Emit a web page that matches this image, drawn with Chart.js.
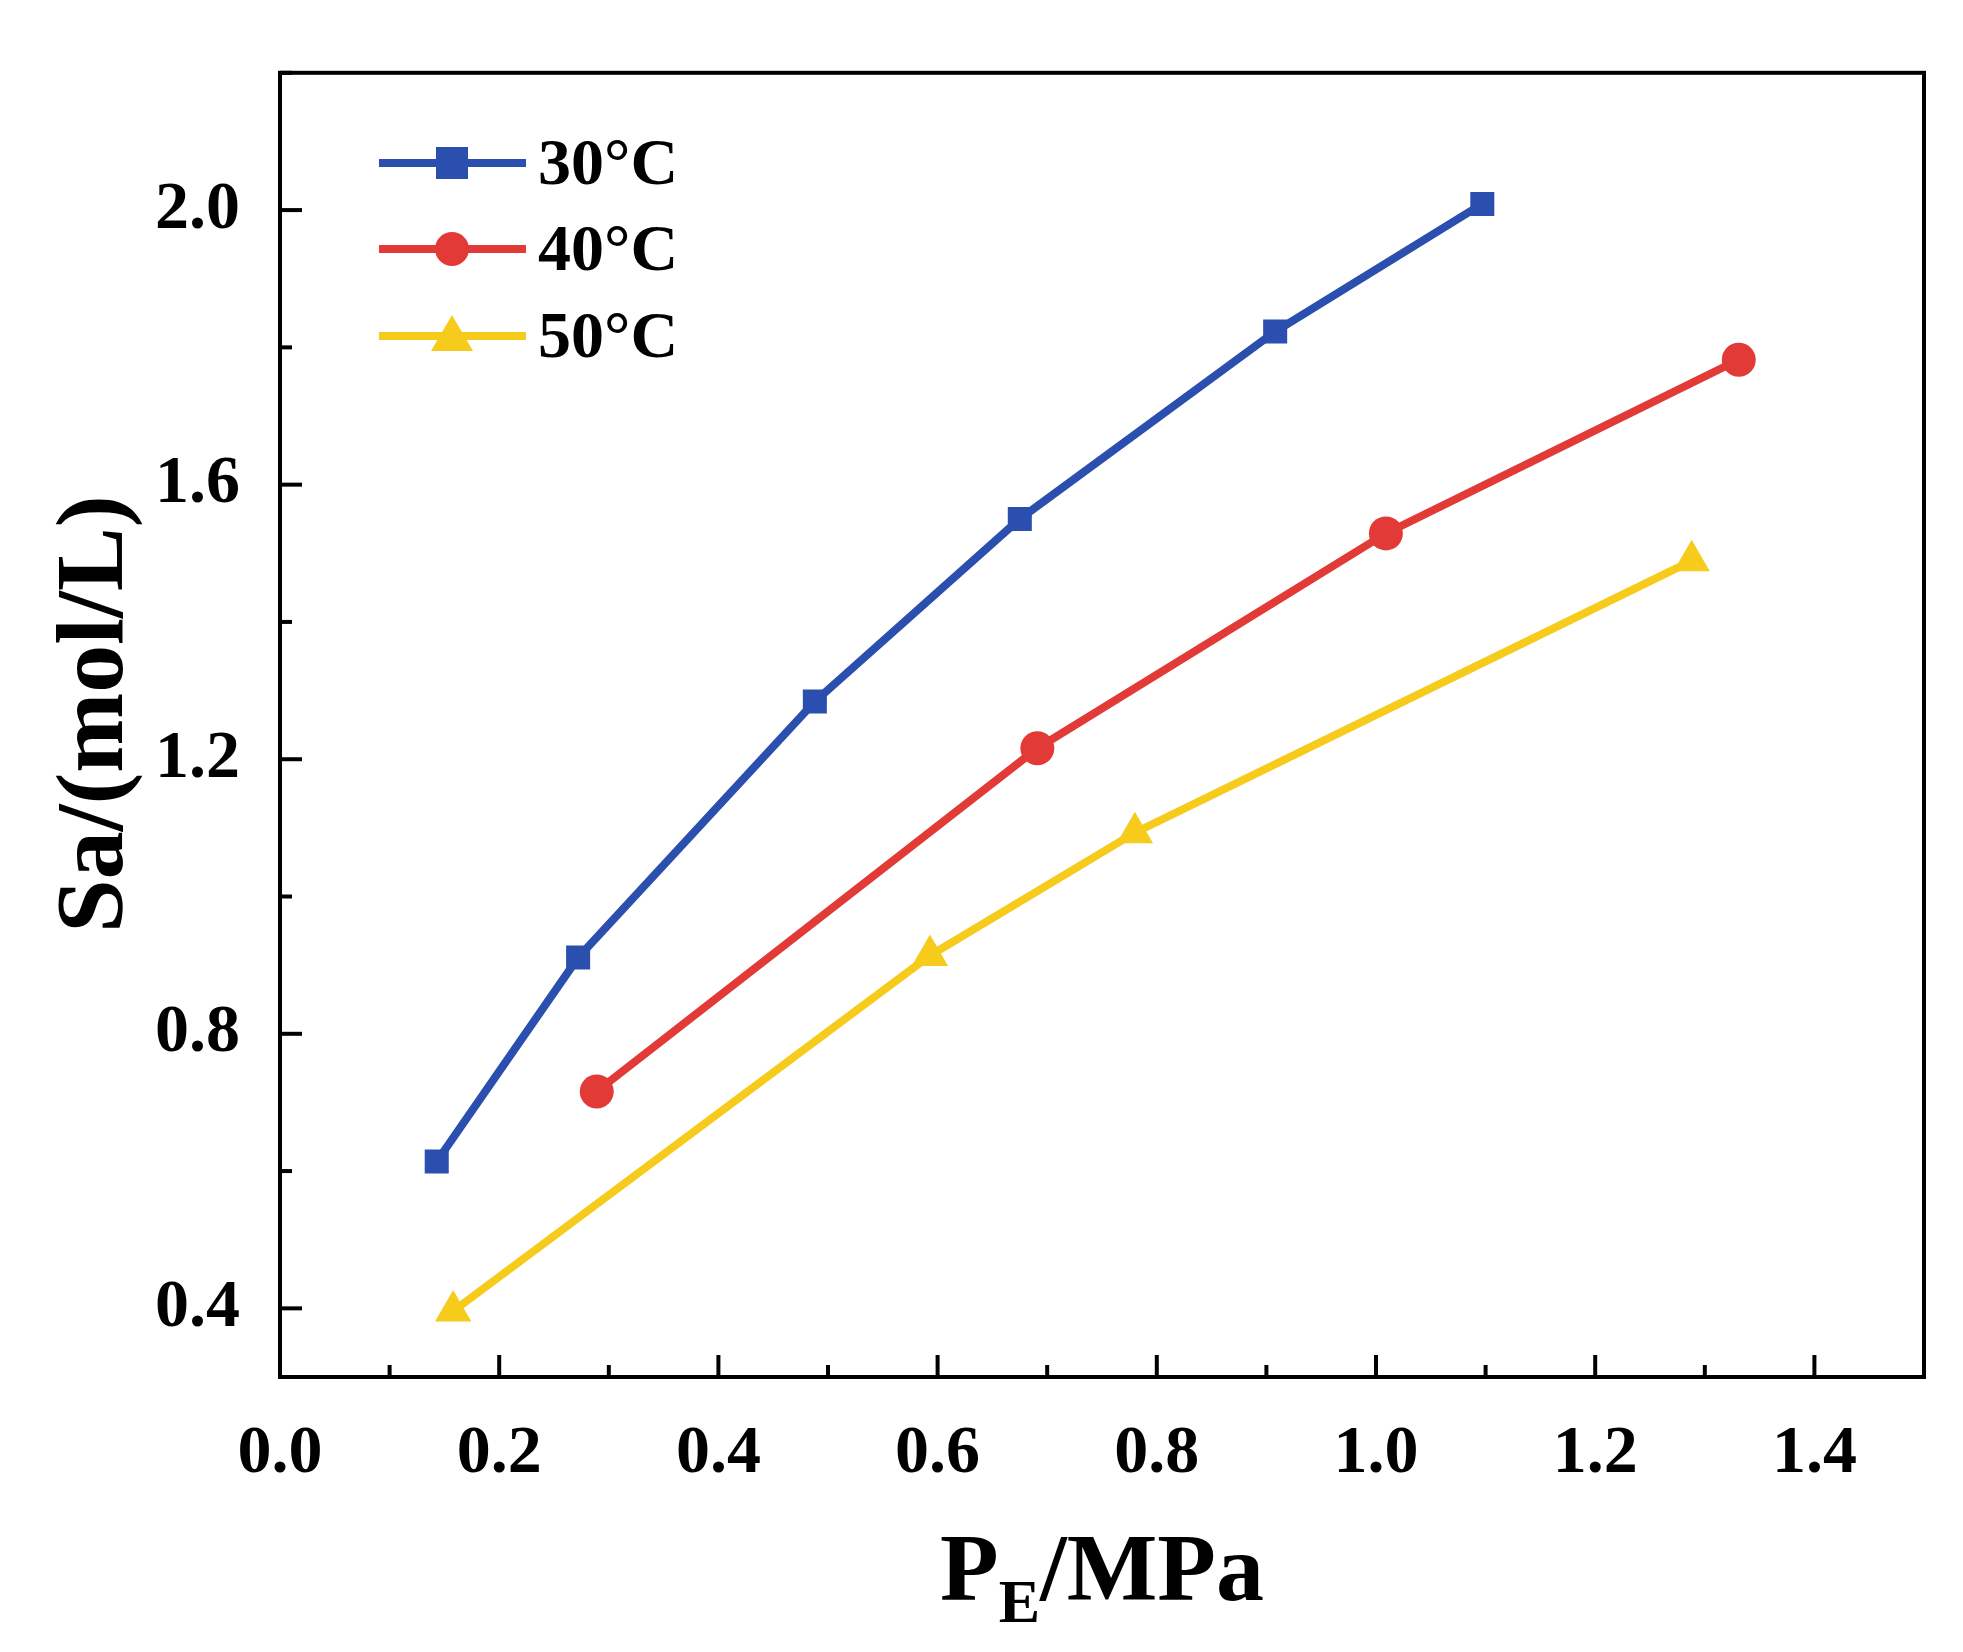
<!DOCTYPE html>
<html>
<head>
<meta charset="utf-8">
<script src="https://cdn.jsdelivr.net/npm/chart.js@4.4.0/dist/chart.umd.min.js"></script>
<style>
  html, body { margin: 0; padding: 0; background: #fff; }
  #wrap { width: 1963px; height: 1652px; }
</style>
</head>
<body>
<div id="wrap"><canvas id="c" width="1963" height="1652"></canvas></div>
<script>
// Data
const seriesLabels = ['30°C', '40°C', '50°C'];
const x30 = [0.143, 0.272, 0.488, 0.675, 0.908, 1.097];
const y30 = [0.614, 0.911, 1.284, 1.550, 1.823, 2.009];
const x40 = [0.289, 0.691, 1.009, 1.331];
const y40 = [0.716, 1.216, 1.529, 1.782];
const x50 = [0.158, 0.593, 0.780, 1.288];
const y50 = [0.396, 0.914, 1.093, 1.489];
const xTicks = [0.0, 0.2, 0.4, 0.6, 0.8, 1.0, 1.2, 1.4];
const yTicks = [0.4, 0.8, 1.2, 1.6, 2.0];

const colors = { blue: '#2b4fae', red: '#e13a37', yellow: '#f6cb1c' };
const FONT = '"Liberation Serif", "Times New Roman", serif';

function pts(xs, ys) { return xs.map((x, i) => ({ x: x, y: ys[i] })); }

function ds(label, data, color, style, r) {
    return {
        label: label, data: data, borderColor: color, backgroundColor: color,
        borderWidth: 8, pointStyle: style, pointRadius: r, pointBorderWidth: 0,
        tension: 0, fill: false, showLine: true
    };
}

// Inward ticks, frame, axis titles and legend
const decor = {
    id: 'decor',
    afterDraw(chart) {
        const ctx = chart.ctx, a = chart.chartArea;
        const xs = chart.scales.x, ys = chart.scales.y;
        ctx.save();
        ctx.strokeStyle = '#000';
        ctx.lineWidth = 4;
        ctx.strokeRect(a.left, a.top, a.right - a.left, a.bottom - a.top);
        for (let v = 0.1; v < 1.5; v += 0.1) {
            const p = xs.getPixelForValue(v);
            const major = Math.round(v * 10) % 2 === 0;
            ctx.beginPath(); ctx.moveTo(p, a.bottom); ctx.lineTo(p, a.bottom - (major ? 22 : 12)); ctx.stroke();
        }
        for (let v = 0.4; v < 2.2; v += 0.2) {
            const p = ys.getPixelForValue(v);
            const major = Math.round(v * 10) % 4 === 0;
            ctx.beginPath(); ctx.moveTo(a.left, p); ctx.lineTo(a.left + (major ? 22 : 12), p); ctx.stroke();
        }

        // x title: P_E/MPa
        ctx.fillStyle = '#000';
        ctx.textBaseline = 'alphabetic';
        ctx.font = 'bold 96px ' + FONT;
        const big = ctx.measureText('P').width;
        ctx.font = 'bold 62px ' + FONT;
        const sub = ctx.measureText('E').width;
        ctx.font = 'bold 96px ' + FONT;
        const rest = ctx.measureText('/MPa').width;
        const x0 = 1102 - (big + sub + rest) / 2;
        const base = 1600;
        ctx.textAlign = 'left';
        ctx.fillText('P', x0, base);
        ctx.font = 'bold 62px ' + FONT;
        ctx.fillText('E', x0 + big, base + 22);
        ctx.font = 'bold 96px ' + FONT;
        ctx.fillText('/MPa', x0 + big + sub, base);

        // y title: Sa/(mol/L)
        ctx.save();
        ctx.translate(122, 714);
        ctx.rotate(-Math.PI / 2);
        ctx.textAlign = 'center';
        ctx.font = 'bold 96px ' + FONT;
        ctx.fillText('Sa/(mol/L)', 0, 0);
        ctx.restore();

        // legend
        const items = [
            { c: colors.blue, s: 'rect', y: 163 },
            { c: colors.red, s: 'circle', y: 249 },
            { c: colors.yellow, s: 'triangle', y: 336 }
        ];
        items.forEach((it, i) => {
            ctx.strokeStyle = it.c; ctx.fillStyle = it.c; ctx.lineWidth = 8;
            ctx.beginPath(); ctx.moveTo(379, it.y); ctx.lineTo(526, it.y); ctx.stroke();
            const mx = 452;
            ctx.beginPath();
            if (it.s === 'rect') ctx.rect(mx - 16, it.y - 16, 32, 32);
            else if (it.s === 'circle') ctx.arc(mx, it.y, 17, 0, Math.PI * 2);
            else { ctx.moveTo(mx, it.y - 21); ctx.lineTo(mx + 21, it.y + 15); ctx.lineTo(mx - 21, it.y + 15); ctx.closePath(); }
            ctx.fill();
            ctx.fillStyle = '#000';
            ctx.font = 'bold 66px ' + FONT;
            ctx.textAlign = 'left';
            ctx.textBaseline = 'middle';
            ctx.fillText(seriesLabels[i], 538, it.y + 4);
        });
        ctx.restore();
    }
};

new Chart(document.getElementById('c'), {
    type: 'scatter',
    data: {
        datasets: [
            ds(seriesLabels[0], pts(x30, y30), colors.blue, 'rect', 17),
            ds(seriesLabels[1], pts(x40, y40), colors.red, 'circle', 17),
            ds(seriesLabels[2], pts(x50, y50), colors.yellow, 'triangle', 21)
        ]
    },
    options: {
        responsive: false,
        animation: false,
        layout: { padding: { top: 17, right: 39, left: 0, bottom: 0 } },
        plugins: { legend: { display: false }, tooltip: { enabled: false } },
        scales: {
            x: {
                type: 'linear', min: 0, max: 1.5,
                afterBuildTicks: s => { s.ticks = xTicks.map(v => ({ value: v })); },
                afterFit: s => { s.height = 275; },
                grid: { display: false },
                border: { display: false },
                ticks: {
                    padding: 29, color: '#000',
                    font: { family: FONT, size: 68, weight: 'bold' },
                    callback: v => v.toFixed(1)
                }
            },
            y: {
                type: 'linear', min: 0.3, max: 2.2,
                afterBuildTicks: s => { s.ticks = yTicks.map(v => ({ value: v })); },
                afterFit: s => { s.width = 280; },
                grid: { display: false },
                border: { display: false },
                ticks: {
                    padding: 32, color: '#000',
                    font: { family: FONT, size: 68, weight: 'bold' },
                    callback: v => v.toFixed(1)
                }
            }
        }
    },
    plugins: [decor]
});
</script>
</body>
</html>
